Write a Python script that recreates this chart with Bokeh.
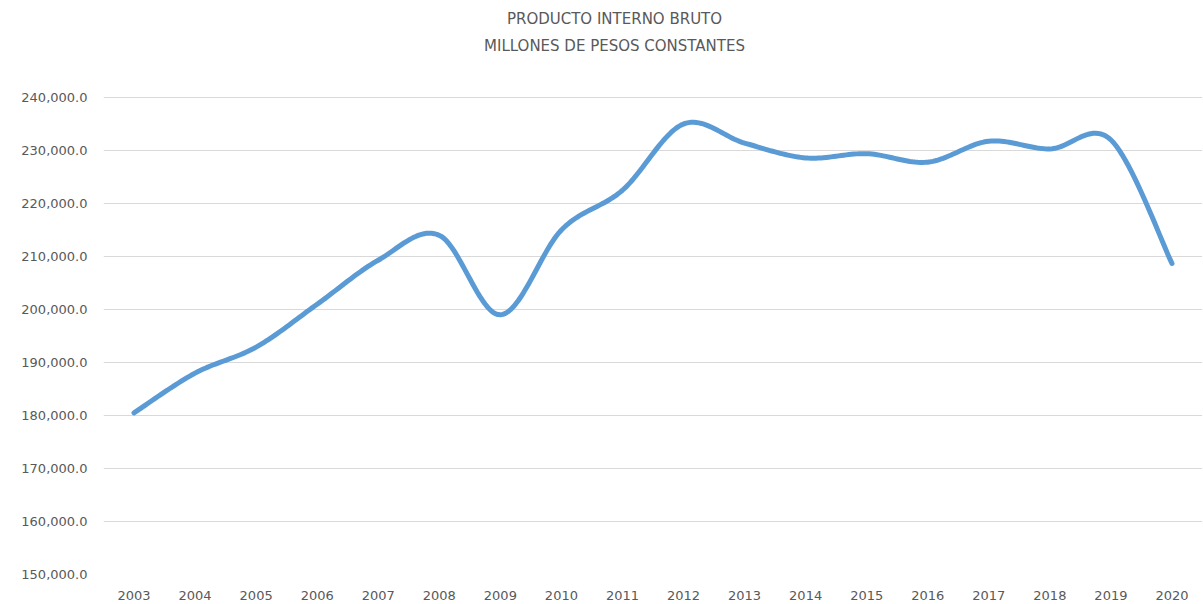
import numpy as np
from bokeh.plotting import figure
from bokeh.models import FixedTicker, NumeralTickFormatter, Range1d, ColumnDataSource
from bokeh.core.properties import value
from bokeh.embed import file_html
from bokeh.resources import INLINE

years = [2003, 2004, 2005, 2006, 2007, 2008, 2009, 2010, 2011, 2012,
         2013, 2014, 2015, 2016, 2017, 2018, 2019, 2020]
pib = [180500, 188000, 192900, 201000, 209300, 214000, 199000, 215000, 222500,
       235000, 231400, 228600, 229400, 227800, 231750, 230300, 232000, 208700]
y_ticks = [150000, 160000, 170000, 180000, 190000, 200000, 210000, 220000, 230000, 240000]
title_lines = ["PRODUCTO INTERNO BRUTO", "MILLONES DE PESOS CONSTANTES"]


def smooth(xs, ys, n=24):
    xs = np.asarray(xs, float)
    ys = np.asarray(ys, float)
    px = np.concatenate([[xs[0]], xs, [xs[-1]]])
    py = np.concatenate([[ys[0]], ys, [ys[-1]]])
    ox, oy = [], []
    for i in range(1, len(px) - 2):
        p0x, p1x, p2x, p3x = px[i - 1], px[i], px[i + 1], px[i + 2]
        p0y, p1y, p2y, p3y = py[i - 1], py[i], py[i + 1], py[i + 2]
        c1x = p1x + (p2x - p0x) / 6
        c1y = p1y + (p2y - p0y) / 6
        c2x = p2x - (p3x - p1x) / 6
        c2y = p2y - (p3y - p1y) / 6
        t = np.linspace(0, 1, n, endpoint=(i == len(px) - 3))
        a = (1 - t) ** 3
        b = 3 * (1 - t) ** 2 * t
        c = 3 * (1 - t) * t ** 2
        d = t ** 3
        ox.extend(a * p1x + b * c1x + c * c2x + d * p2x)
        oy.extend(a * p1y + b * c1y + c * c2y + d * p2y)
    return ox, oy


sx, sy = smooth(years, pib)
src = ColumnDataSource(dict(x=sx, y=sy))

# layout: plot area spans 477px for the tick span; 97px of headroom above for the titles
span = y_ticks[-1] - y_ticks[0]
per_px = span / 477.0
y_top = y_ticks[-1] + 97 * per_px
x_lo, x_hi = years[0] - 0.5, years[-1] + 0.5
x_title = x_lo + (x_hi - x_lo) * (511.0 / 1099.0)
title_src = ColumnDataSource(dict(
    x=[x_title, x_title],
    y=[y_ticks[-1] + (97 - 18) * per_px, y_ticks[-1] + (97 - 45) * per_px],
    t=title_lines))

grey = "#595959"
p = figure(width=1202, height=602, output_backend="svg", toolbar_location=None,
           x_range=Range1d(x_lo, x_hi), y_range=Range1d(y_ticks[0], y_top),
           min_border_left=103, min_border_right=0, min_border_top=0, min_border_bottom=28)
p.title = None
p.outline_line_color = None
p.background_fill_color = "white"
p.border_fill_color = "white"

p.line("x", "y", source=src, line_color="#5B9BD5", line_width=5, line_cap="round", line_join="round")
p.text("x", "y", text="t", source=title_src, text_align="center", text_baseline="middle",
       text_font=value("DejaVu Sans"), text_font_size="15px", text_color=grey)

p.xaxis.ticker = FixedTicker(ticks=years)
p.yaxis.ticker = FixedTicker(ticks=y_ticks)
p.yaxis.formatter = NumeralTickFormatter(format="0,0.0")
for ax in (p.xaxis[0], p.yaxis[0]):
    ax.axis_line_color = None
    ax.major_tick_line_color = None
    ax.minor_tick_line_color = None
    ax.major_label_text_color = grey
    ax.major_label_text_font = "DejaVu Sans"
    ax.major_label_text_font_size = "13px"
p.xaxis.major_label_standoff = 10
p.yaxis.major_label_standoff = 10
p.xgrid.grid_line_color = None
p.ygrid.grid_line_color = "#D9D9D9"
p.ygrid.grid_line_width = 1

open("out.html", "w").write(file_html(p, INLINE))
